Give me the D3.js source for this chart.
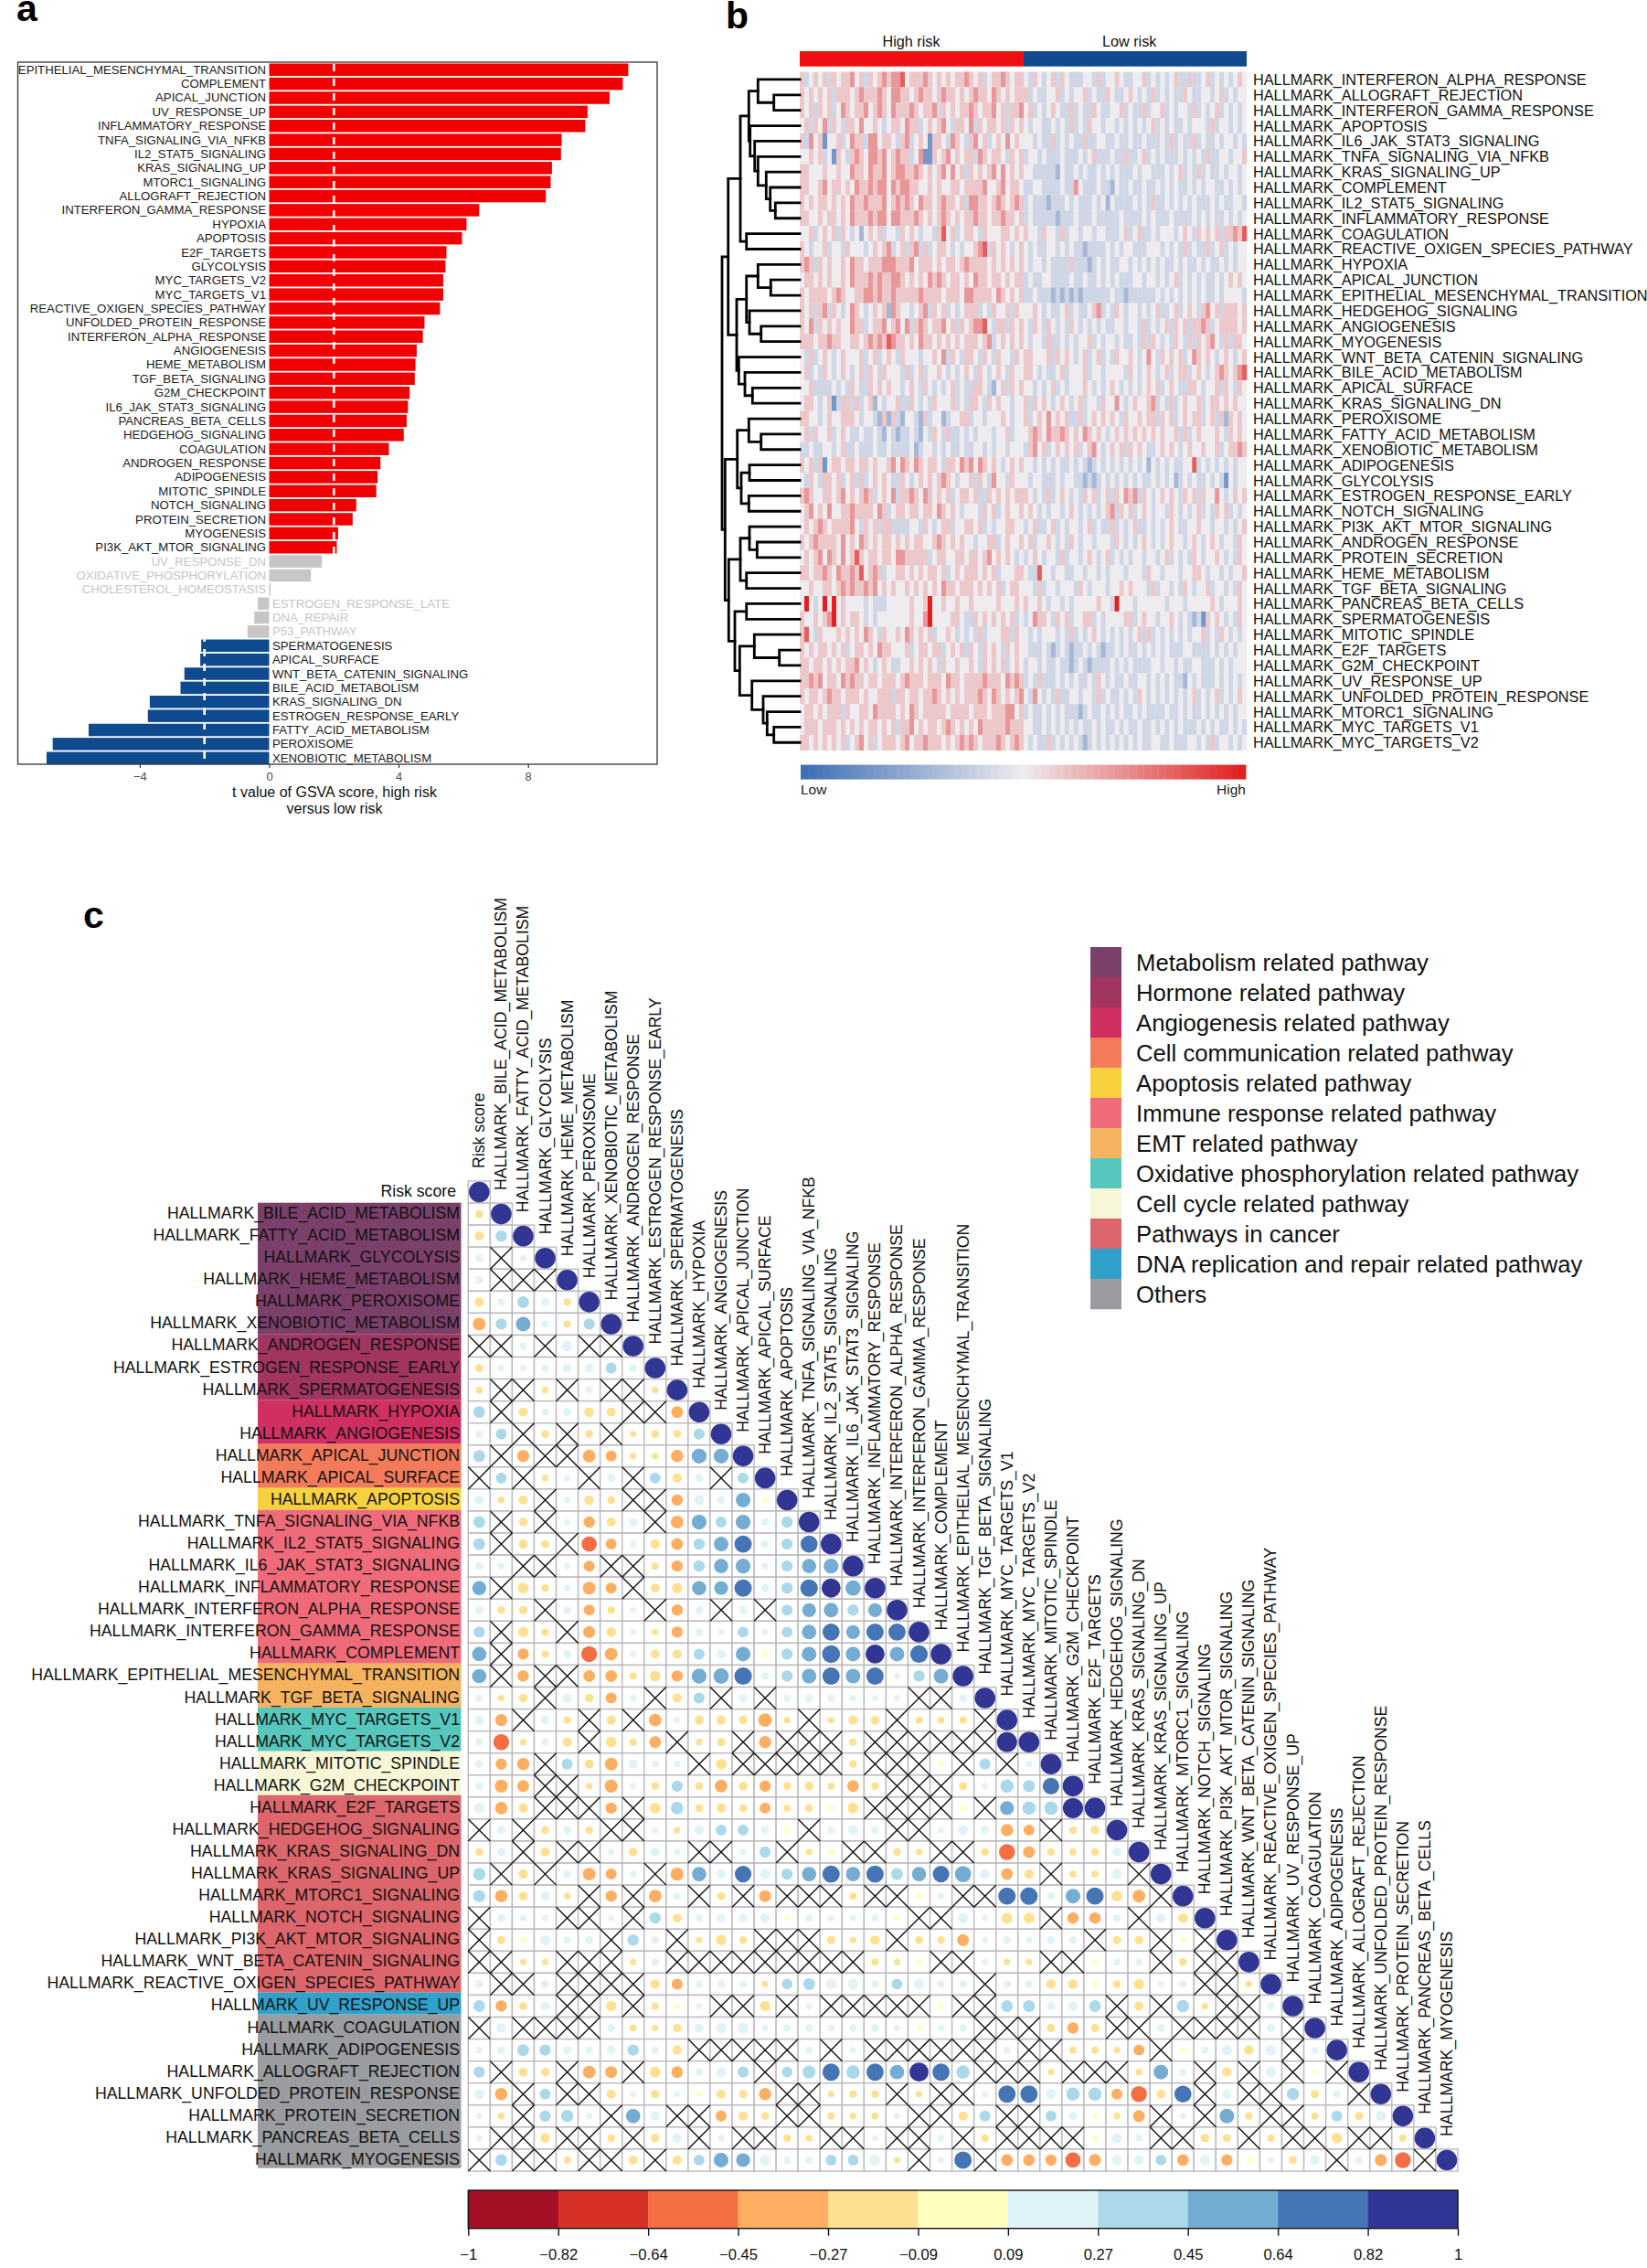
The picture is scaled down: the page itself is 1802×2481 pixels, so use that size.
<!DOCTYPE html>
<html><head><meta charset="utf-8">
<script src="https://cdn.jsdelivr.net/npm/d3@7"></script>
<style>
html,body{margin:0;padding:0;background:#fff}
text{font-family:"Liberation Sans",Arial,sans-serif}
</style></head><body><div id="chart"></div>
<script>
/* ---------- panel a ---------- */
const barNames=["EPITHELIAL_MESENCHYMAL_TRANSITION","COMPLEMENT","APICAL_JUNCTION","UV_RESPONSE_UP","INFLAMMATORY_RESPONSE","TNFA_SIGNALING_VIA_NFKB","IL2_STAT5_SIGNALING","KRAS_SIGNALING_UP","MTORC1_SIGNALING","ALLOGRAFT_REJECTION","INTERFERON_GAMMA_RESPONSE","HYPOXIA","APOPTOSIS","E2F_TARGETS","GLYCOLYSIS","MYC_TARGETS_V2","MYC_TARGETS_V1","REACTIVE_OXIGEN_SPECIES_PATHWAY","UNFOLDED_PROTEIN_RESPONSE","INTERFERON_ALPHA_RESPONSE","ANGIOGENESIS","HEME_METABOLISM","TGF_BETA_SIGNALING","G2M_CHECKPOINT","IL6_JAK_STAT3_SIGNALING","PANCREAS_BETA_CELLS","HEDGEHOG_SIGNALING","COAGULATION","ANDROGEN_RESPONSE","ADIPOGENESIS","MITOTIC_SPINDLE","NOTCH_SIGNALING","PROTEIN_SECRETION","MYOGENESIS","PI3K_AKT_MTOR_SIGNALING","UV_RESPONSE_DN","OXIDATIVE_PHOSPHORYLATION","CHOLESTEROL_HOMEOSTASIS","ESTROGEN_RESPONSE_LATE","DNA_REPAIR","P53_PATHWAY","SPERMATOGENESIS","APICAL_SURFACE","WNT_BETA_CATENIN_SIGNALING","BILE_ACID_METABOLISM","KRAS_SIGNALING_DN","ESTROGEN_RESPONSE_EARLY","FATTY_ACID_METABOLISM","PEROXISOME","XENOBIOTIC_METABOLISM"];
const barValues=[11.1,10.93,10.52,9.84,9.77,9.04,9.02,8.74,8.7,8.55,6.49,6.1,5.96,5.48,5.45,5.38,5.38,5.28,4.8,4.75,4.56,4.52,4.5,4.34,4.29,4.25,4.16,3.7,3.44,3.35,3.31,2.69,2.58,2.13,2.09,1.63,1.29,0.04,-0.35,-0.46,-0.67,-2.1,-2.13,-2.62,-2.74,-3.69,-3.75,-5.58,-6.69,-6.88];
const barTicks=[-4,0,4,8];
const barThreshold=[-2,2];

/* ---------- panel b ---------- */
const heatRowNames=["INTERFERON_ALPHA_RESPONSE","ALLOGRAFT_REJECTION","INTERFERON_GAMMA_RESPONSE","APOPTOSIS","IL6_JAK_STAT3_SIGNALING","TNFA_SIGNALING_VIA_NFKB","KRAS_SIGNALING_UP","COMPLEMENT","IL2_STAT5_SIGNALING","INFLAMMATORY_RESPONSE","COAGULATION","REACTIVE_OXIGEN_SPECIES_PATHWAY","HYPOXIA","APICAL_JUNCTION","EPITHELIAL_MESENCHYMAL_TRANSITION","HEDGEHOG_SIGNALING","ANGIOGENESIS","MYOGENESIS","WNT_BETA_CATENIN_SIGNALING","BILE_ACID_METABOLISM","APICAL_SURFACE","KRAS_SIGNALING_DN","PEROXISOME","FATTY_ACID_METABOLISM","XENOBIOTIC_METABOLISM","ADIPOGENESIS","GLYCOLYSIS","ESTROGEN_RESPONSE_EARLY","NOTCH_SIGNALING","PI3K_AKT_MTOR_SIGNALING","ANDROGEN_RESPONSE","PROTEIN_SECRETION","HEME_METABOLISM","TGF_BETA_SIGNALING","PANCREAS_BETA_CELLS","SPERMATOGENESIS","MITOTIC_SPINDLE","E2F_TARGETS","G2M_CHECKPOINT","UV_RESPONSE_UP","UNFOLDED_PROTEIN_RESPONSE","MTORC1_SIGNALING","MYC_TARGETS_V1","MYC_TARGETS_V2"];
const heatHigh=[
"5345453545564535456566745556545454556545345565455",
"5454545355545655565466554565545655454565546545455",
"5453545346545564565465556545563545455654556453556",
"4535463543554644543455465534545643554635455453545",
"5364514453465536645543563454155436543564534546454",
"4454534154356546656456553461154564545536545543545",
"5544454454465546556456655654545646453545456464545",
"5544564554546556566465665544545445545555644564554",
"5454554545465565556456565465545655453665545654565",
"5544545545465556566466555654545654545565545565545",
"4453454535434245453443545434435745345543544455454",
"5434453443544434545634535635345543434456735454345",
"5653545445465545556665556455545455456555545454545",
"4554545445465556565566545454656545545465545545455",
"5455554565445566565565555565555455546655554654545",
"5453563543465434545265443456354534345553435445354",
"5463545454465534556456463565455645354566743553545",
"5554556554455456565765545465545454545554563454545",
"4353454345444534534543544434454635435543543544354",
"4534354345434535435444353453445434345435434543544",
"4453333434354335454544345435434345343355432453545",
"4554345135535345243445335434354445343554354544344",
"5544345445554344325253244325344234455344344454344",
"4535445345433433432432334324354353343434443445344",
"3343344345334333433433334234434343343344343443444",
"5453514554554554544564654654554355465646545434545",
"4354355453453534545433543454545654344535436443544",
"5654455456454565345463556546545453455453354545455",
"4564546445565555465345545545546545434443545345445",
"4545654555564354535533334435434553445545343445544",
"5456555546454654545545454554456545454434455345445",
"4545646546457545545546655555345544554554564545434",
"5545565465565745653445545454554534545554545344455",
"4454455456565565645454454545454655455545454534554",
"4843484845444434333444445445844544544544444544454",
"5445456845455434344444445446844445543354545454534",
"5743544454545465435445465454534454343435344455354",
"5454554545345545465544453455455345453543545435454",
"5545545454556454345433445454543544544543545453454",
"5565645546565545545554565554555465545555655546565",
"5455456554555454455535545545565454545556546545456",
"4554545553544554655554546545555545555455545556645",
"4555455545454545545453556454554565454546555556555",
"5545454545345645345554564556555454565654555654565"];
const heatLow=[
"4354345354333443534454334453434345335334534343454",
"5343344534344534335433454343534343354334434534344",
"4534345433534335433445343353445343443534345343434",
"4344334343534354434434343434534343343444353443434",
"4434335343433533443343343343334353433534334344343",
"3443433343334345333433533453434333434343533443445",
"4433333243343433434343334344333434534353433434434",
"3344333343364333433243343343343434334343443343434",
"3433323334343334342433334343533434343433343433443",
"3433333233343334333334333343433343333434343343434",
"5443544353443443443334534533434443454354545355657",
"4343344343433233334343443334443434353433534534344",
"4344343333533323434334434343434334343343433434344",
"3433443333433433434343334434434345343434334345454",
"3343332323232333333433233333343434343434334344443",
"4454343345343345634354344343453345345435645355545",
"4354354343543434343344344353434535453556534555545",
"4344353343434453434434334353543435435354564353554",
"5544453545434534534354454346435454534654543454345",
"5543433453444534434444354345434534553454345654567",
"4434345343444543434543434345453454335543445354354",
"5354543454345344354464345445634353454453455454544",
"5345464545335345454543544545535453454553453525454",
"4565465565454654543454545454545445353454445435454",
"3564534545453456434545354543345454345445445345565",
"4434343433434323434343434342434343344734343434344",
"4344333434433232343434343433434342343433434314344",
"5434353454343545345354656354345454354535446434545",
"4543434434543434345635453454344354343453435453434",
"3453345343443453433534345334343454334454434434345",
"4534454343543443444354343454343454434543454344354",
"3454344353443454345343434434434534343543445434354",
"4337443443344344343444344435443444344554344343445",
"4435344344435434443445454443534434354344534434354",
"5445434434344444544384443444444344434444454344454",
"3465543545344553434444553454434454343231545434354",
"4343444343534345434343434535343434343445343543434",
"4333432343233434323343433434343433344333343434344",
"3443433433234323333434343333443443433443334343444",
"3435333434343343543433433443434343324343334343434",
"4364343533443443534334343543434343434534345343454",
"3433434343332343343434334343333433434334343434344",
"4433434343434334343343433433434343433343434334343",
"4343353434343234343434343433443343334434353443434"];
const heatGroups=["High risk","Low risk"];
const heatScaleLabels=["Low","High"];
const dendrogram=[85,
 [78.3,
  [65,
   [55.7,[45.7,0,[28.3,1,2]],
    [54.3,3,[49.3,4,[45.7,5,[36.7,6,[32.3,7,[26.7,8,9]]]]]]],
   [58.3,10,11]],
  [69,
   [58.3,[45.7,12,[31.7,13,14]],[55,15,[42.3,16,17]]],
   [66.7,18,[60,19,[51.7,20,21]]]]],
 [81.7,
  [68.3,[55.7,22,[42.3,23,24]],[64,[55,25,26],[55.7,27,28]]],
  [77.7,
   [65,[55,29,[46.7,30,31]],[58.3,32,33]],
   [71,[58.3,34,35],
    [65.7,[49.7,36,[22.3,37,38]],
     [52.3,39,[40,40,[35.7,41,[28.3,42,43]]]]]]]]];

/* ---------- panel c ---------- */
const corrNames=["Risk score","HALLMARK_BILE_ACID_METABOLISM","HALLMARK_FATTY_ACID_METABOLISM","HALLMARK_GLYCOLYSIS","HALLMARK_HEME_METABOLISM","HALLMARK_PEROXISOME","HALLMARK_XENOBIOTIC_METABOLISM","HALLMARK_ANDROGEN_RESPONSE","HALLMARK_ESTROGEN_RESPONSE_EARLY","HALLMARK_SPERMATOGENESIS","HALLMARK_HYPOXIA","HALLMARK_ANGIOGENESIS","HALLMARK_APICAL_JUNCTION","HALLMARK_APICAL_SURFACE","HALLMARK_APOPTOSIS","HALLMARK_TNFA_SIGNALING_VIA_NFKB","HALLMARK_IL2_STAT5_SIGNALING","HALLMARK_IL6_JAK_STAT3_SIGNALING","HALLMARK_INFLAMMATORY_RESPONSE","HALLMARK_INTERFERON_ALPHA_RESPONSE","HALLMARK_INTERFERON_GAMMA_RESPONSE","HALLMARK_COMPLEMENT","HALLMARK_EPITHELIAL_MESENCHYMAL_TRANSITION","HALLMARK_TGF_BETA_SIGNALING","HALLMARK_MYC_TARGETS_V1","HALLMARK_MYC_TARGETS_V2","HALLMARK_MITOTIC_SPINDLE","HALLMARK_G2M_CHECKPOINT","HALLMARK_E2F_TARGETS","HALLMARK_HEDGEHOG_SIGNALING","HALLMARK_KRAS_SIGNALING_DN","HALLMARK_KRAS_SIGNALING_UP","HALLMARK_MTORC1_SIGNALING","HALLMARK_NOTCH_SIGNALING","HALLMARK_PI3K_AKT_MTOR_SIGNALING","HALLMARK_WNT_BETA_CATENIN_SIGNALING","HALLMARK_REACTIVE_OXIGEN_SPECIES_PATHWAY","HALLMARK_UV_RESPONSE_UP","HALLMARK_COAGULATION","HALLMARK_ADIPOGENESIS","HALLMARK_ALLOGRAFT_REJECTION","HALLMARK_UNFOLDED_PROTEIN_RESPONSE","HALLMARK_PROTEIN_SECRETION","HALLMARK_PANCREAS_BETA_CELLS","HALLMARK_MYOGENESIS"];
const _=null; /* crossed-out (non-significant) cell */
const corrRows=[
[1],
[-.15,1],
[-.2,.3,1],
[.15,_,.1,1],
[.14,_,_,_,1],
[-.2,.14,.32,.15,-.13,1],
[-.38,.3,.5,.13,-.12,.3,1],
[_,_,.12,_,.25,_,_,1],
[-.15,.11,.1,.12,.18,.18,.28,.15,1],
[-.11,_,_,-.1,_,.12,_,_,-.1,1],
[.32,_,-.2,.12,.16,-.22,-.19,_,_,-.33,1],
[.13,.28,_,-.15,_,-.14,_,-.1,-.15,-.15,.28,1],
[.34,_,-.35,_,_,-.38,-.28,-.1,-.1,-.36,.52,.52,1],
[_,.28,_,-.1,.1,_,.15,_,.28,-.2,.15,_,.28,1],
[.2,-.11,-.2,_,.09,-.22,-.15,_,_,-.3,.25,.12,.5,.08,1],
[.33,_,-.17,_,.1,-.3,-.19,.16,_,-.38,.52,.28,.52,.12,.3,1],
[.33,_,-.2,-.15,_,-.55,-.28,.11,-.2,-.33,.3,.5,.7,.14,.3,.68,1],
[.15,.1,_,_,.1,-.28,_,_,-.12,-.3,.3,.48,.52,.1,.3,.48,.52,1],
[.46,_,-.27,-.13,.1,-.38,-.28,_,-.2,-.25,.48,.45,.7,.14,.3,.72,.85,.55,1],
[.15,-.13,-.16,_,.13,-.28,-.13,.09,_,-.3,.15,_,.15,_,.28,.45,.5,.3,.45,1],
[.3,_,-.25,-.12,_,-.33,-.22,.09,-.1,-.3,.15,.09,.28,.1,.28,.5,.68,.45,.7,.7,1],
[.48,_,-.3,-.12,.14,-.6,-.38,.1,-.18,-.2,.28,.2,.5,.08,.3,.5,.75,.5,.85,.5,.72,1],
[.48,_,-.3,_,_,-.32,-.32,-.13,-.27,-.3,.52,.55,.72,.12,.3,.5,.7,.5,.7,.09,.3,.5,1],
[.12,-.1,-.17,_,.2,-.17,-.28,.12,_,-.2,.28,_,.15,_,.12,.15,.14,.1,.09,.09,_,_,.15,1],
[.2,-.35,_,.18,-.13,_,-.2,_,-.38,.1,-.2,-.2,-.18,-.43,-.1,_,-.1,-.2,-.17,_,-.12,-.12,-.14,_,1],
[.13,-.6,-.1,.13,-.2,_,-.27,-.12,-.32,_,-.1,-.16,_,-.35,_,_,_,-.14,_,_,_,_,_,_,.95,1],
[.14,-.3,-.36,_,.28,-.2,-.38,.2,.12,.1,_,-.27,_,_,_,_,_,-.13,_,_,_,.08,_,.28,_,.1,1],
[.15,-.4,-.33,_,_,-.1,-.4,.1,-.13,.3,-.15,-.38,-.18,-.3,-.14,-.18,-.12,-.32,-.13,_,_,_,-.15,.1,.42,.35,.65,1],
[.25,-.36,-.2,_,_,_,-.3,_,-.27,.36,-.15,-.2,-.14,-.28,-.12,-.14,-.08,-.27,_,_,_,_,-.08,_,.45,.42,.43,.95,1],
[_,.17,_,-.15,.14,-.14,_,_,.1,-.1,.2,.28,.27,.16,.08,_,.13,.22,.14,_,_,.1,.24,.15,-.36,-.28,_,-.13,-.18,1],
[-.15,.18,_,-.2,_,_,.1,-.17,.2,.1,_,_,.1,.3,_,-.1,-.08,_,_,-.15,-.1,_,_,-.14,-.6,-.33,-.13,-.12,-.14,.2,1],
[.36,_,-.2,_,.13,-.38,-.28,.11,_,-.4,.48,.2,.65,.25,.3,.48,.7,.48,.7,.33,.48,.65,.62,.22,-.32,-.2,_,-.12,-.12,.25,_,1],
[.35,-.36,-.17,.2,-.1,_,-.3,_,-.37,.12,_,-.15,_,-.33,_,_,_,-.12,_,_,.08,.1,_,_,.7,.72,.15,.5,.7,-.27,-.38,_,1],
[_,.16,.1,.1,_,_,.1,_,.3,-.18,.12,.16,.16,.22,.08,.12,.1,.09,.12,-.09,_,_,.26,.09,-.27,-.27,_,-.3,-.3,.13,_,.22,-.22,1],
[_,-.15,.08,.25,.13,.15,_,.3,.15,_,-.1,-.26,-.14,_,_,_,-.18,-.1,-.22,_,-.14,-.14,-.33,.09,.14,.1,.16,.13,_,-.16,-.18,_,.07,_,1],
[_,_,-.1,-.1,_,_,_,-.1,.13,_,_,_,_,_,_,_,_,_,-.12,-.1,-.09,_,_,.1,-.1,-.1,_,_,-.09,.12,.11,_,-.14,_,_,1],
[.15,_,_,.17,_,_,_,_,-.2,-.28,.12,.13,.12,-.1,.27,.33,.26,.26,.13,.27,.26,.13,.13,_,.13,.13,-.2,-.22,-.09,-.14,-.25,.09,.13,_,_,-.1,1],
[.32,-.3,-.15,.18,_,_,-.25,_,-.12,.07,.1,_,_,-.25,_,.09,_,_,_,_,_,.08,_,_,.32,.34,.15,.22,.32,_,-.2,_,.36,-.1,_,_,.14,1],
[_,.2,_,_,_,_,.14,-.12,-.1,-.17,.2,.25,.26,.1,.13,.14,.12,.14,.14,.1,.07,.1,.14,_,_,_,-.16,-.3,-.16,_,_,.14,_,_,_,_,.16,_,1],
[.1,.15,.33,.3,.16,.13,.18,.3,.12,-.2,_,_,_,_,_,.12,_,.09,_,_,_,_,_,_,.12,_,_,-.12,-.12,-.1,-.28,_,.07,.12,.25,-.2,.25,_,.1,1],
[.3,_,-.18,-.17,_,-.38,-.33,_,-.27,-.32,.13,.22,.3,_,.27,.4,.7,.42,.7,.48,.85,.7,.42,_,_,_,-.1,_,_,_,-.12,.5,.12,_,-.2,_,.25,_,.07,_,1],
[.24,-.37,_,.28,_,_,-.2,.1,-.17,.1,-.08,-.2,-.16,-.35,_,_,-.1,-.14,-.14,_,-.1,_,_,.1,.7,.7,.25,.42,.42,-.28,-.6,-.18,.68,_,.2,_,_,.37,-.16,.13,_,1],
[.1,-.11,_,.3,.36,.1,_,.48,.2,_,_,-.28,-.2,-.14,_,_,-.12,-.1,-.12,.1,_,_,-.2,.28,_,_,.28,.17,.07,-.12,-.33,_,.1,_,.5,-.14,_,_,-.12,.28,-.16,.26,1],
[.1,_,_,-.2,_,_,-.13,_,-.17,.2,_,.1,_,_,-.13,-.11,_,_,.09,_,_,.12,_,-.12,_,_,_,_,.08,.25,.13,_,_,-.17,-.16,_,-.12,_,_,-.26,_,_,-.12,1],
[_,.33,_,_,-.12,_,_,-.18,_,-.2,.28,.5,.45,.26,.12,.12,.28,.28,.26,-.1,_,.1,.7,_,-.32,-.32,-.3,-.55,-.34,.25,.22,.27,-.32,.25,-.3,.08,.1,-.15,.22,_,.12,-.34,-.6,_,1]];
const corrBreaks=[-.82,-.64,-.45,-.27,-.09,.09,.27,.45,.64,.82];
const corrColors=["#a50f26","#d73027","#f46d43","#fdae61","#fee090","#ffffbf","#e0f3f8","#abd9e9","#74add1","#4575b4","#313695"];
const corrTicks=["−1","−0.82","−0.64","−0.45","−0.27","−0.09","0.09","0.27","0.45","0.64","0.82","1"];
const pathwayNames=["Metabolism related pathway","Hormone related pathway","Angiogenesis related pathway","Cell communication related pathway","Apoptosis related pathway","Immune response related pathway","EMT related pathway","Oxidative phosphorylation related pathway","Cell cycle related pathway","Pathways in cancer","DNA replication and repair related pathway","Others"];
const pathwayColors=["#7b4069","#a13560","#d02f62","#f47b5a","#f8d23e","#ef6b79","#f6b35f","#56c7bd","#f7f6d6","#dc666b","#2fa1cb","#9a9c9f"];
const pathwayRowCounts=[6,3,2,2,1,7,2,2,2,9,1,7];

/* ---------- drawing ---------- */
const svg=d3.select("#chart").append("svg").attr("width",1802).attr("height",2481);
const panelLabels=[["a",18,23],["b",794,31],["c",91,1015]];
svg.selectAll("text.panel").data(panelLabels).join("text").attr("class","panel")
 .attr("x",d=>d[1]).attr("y",d=>d[2]).attr("font-size",41).attr("font-weight","bold").text(d=>d[0]);

/* panel a */
(function(){
 const L=19.5,R=719,T=68,B=836;
 const x=d3.scaleLinear().domain([-4,8]).range([152.9,577.7]);
 const y=d3.scaleBand().domain(barNames).range([T+1.5,B]).paddingInner(.12).paddingOuter(0);
 const g=svg.append("g");
 const cls=v=>v>=2?"#f00000":v<=-2?"#0f4a8f":"#c8c5c7";
 g.selectAll("rect.bar").data(barNames).join("rect").attr("class","bar")
  .attr("x",(d,i)=>Math.min(x(0),x(barValues[i]))).attr("width",(d,i)=>Math.abs(x(barValues[i])-x(0)))
  .attr("y",d=>y(d)).attr("height",y.bandwidth()).attr("fill",(d,i)=>cls(barValues[i]));
 g.selectAll("line.th").data(barThreshold).join("line").attr("class","th")
  .attr("x1",x).attr("x2",x).attr("y1",T+2).attr("y2",B)
  .attr("stroke","#fff").attr("stroke-width",2.6).attr("stroke-dasharray","8 8");
 g.selectAll("text.lab").data(barNames).join("text").attr("class","lab")
  .attr("x",(d,i)=>barValues[i]>=0?x(0)-3.5:x(0)+3.5).attr("y",d=>y(d)+y.bandwidth()/2)
  .attr("dominant-baseline","central").attr("text-anchor",(d,i)=>barValues[i]>=0?"end":"start")
  .attr("font-size",13.2).attr("fill",(d,i)=>Math.abs(barValues[i])>=2?"#1a1a1a":"#c8c4c6").text(d=>d);
 g.append("rect").attr("x",L).attr("y",T).attr("width",R-L).attr("height",B-T).attr("fill","none").attr("stroke","#333").attr("stroke-width",1.3);
 const ax=g.append("g").attr("transform",`translate(0,${B})`).call(d3.axisBottom(x).tickValues(barTicks).tickSize(4).tickFormat(d=>d<0?"−"+(-d):d));
 ax.select(".domain").remove();
 ax.selectAll("line").attr("stroke","#333").attr("stroke-width",1.2);
 ax.selectAll("text").attr("font-size",13).attr("fill","#4d4d4d").attr("font-family","Liberation Sans").attr("dy","0.85em");
 g.selectAll("text.xt").data(["t value of GSVA score, high risk","versus low risk"]).join("text").attr("class","xt")
  .attr("x",366).attr("y",(d,i)=>872+i*18).attr("text-anchor","middle").attr("font-size",16).attr("fill","#111").text(d=>d);
})();

/* panel b */
(function(){
 const L=875,M=1120,R=1364,T=78.5,B=820.7;
 const y=d3.scaleBand().domain(heatRowNames).range([T,B]);
 const xH=d3.scaleBand().domain(d3.range(49)).range([L,M]);
 const xL=d3.scaleBand().domain(d3.range(49)).range([M,R]);
 const col=d3.scaleLinear().domain([-1,0,1]).range(["#3f6fb5","#eeecef","#e1201f"]);
 const g=svg.append("g");
 const lvl=c=>{const s=(+c-4)/4;return Math.sign(s)*Math.pow(Math.abs(s),1.25);};
 [[heatHigh,xH],[heatLow,xL]].forEach(([rows,xs])=>{
  rows.forEach((s,r)=>{
   g.append("g").selectAll("rect").data(s.split("").slice(0,49)).join("rect")
    .attr("x",(d,i)=>xs(i)).attr("width",xs.bandwidth()+.3).attr("y",y(heatRowNames[r])).attr("height",y.bandwidth()+.3)
    .attr("fill",d=>col(lvl(d)));
  });
 });
 g.selectAll("rect.ann").data(heatGroups).join("rect").attr("class","ann")
  .attr("x",(d,i)=>i?M:L).attr("width",(d,i)=>i?R-M:M-L).attr("y",56).attr("height",16.7).attr("fill",(d,i)=>i?"#0f4a8f":"#ee1010");
 g.selectAll("text.ann").data(heatGroups).join("text").attr("class","ann")
  .attr("x",(d,i)=>i?1235.7:997).attr("y",51).attr("text-anchor","middle").attr("font-size",16.2).attr("fill","#111").text(d=>d);
 g.selectAll("text.rn").data(heatRowNames).join("text").attr("class","rn")
  .attr("x",1371).attr("y",d=>y(d)+y.bandwidth()/2).attr("dominant-baseline","central").attr("font-size",16.3).attr("fill","#111").text(d=>"HALLMARK_"+d);
 /* dendrogram */
 const root=d3.hierarchy(dendrogram,d=>Array.isArray(d)?d.slice(1):null);
 const hx=d3.scaleLinear().domain([0,85]).range([L,L-85]);
 const height=n=>n.children?n.data[0]:0;
 root.eachAfter(n=>{n.yy=n.children?d3.mean(n.children,c=>c.yy):y(heatRowNames[n.data])+y.bandwidth()/2;});
 const dp=g.append("g").attr("fill","none").attr("stroke","#000").attr("stroke-width",2.8).attr("stroke-linecap","square");
 root.descendants().filter(n=>n.children).forEach(n=>{
  const [a,b]=n.children;
  dp.append("path").attr("d",d3.line()([[hx(height(a)),a.yy],[hx(height(n)),a.yy],[hx(height(n)),b.yy],[hx(height(b)),b.yy]]));
 });
 /* colour key */
 const keyVals=d3.range(-1,1.001,2/60);
 const kx=d3.scaleBand().domain(keyVals).range([L+1,R-1]);
 g.selectAll("rect.key").data(keyVals).join("rect").attr("class","key").attr("x",d=>kx(d)).attr("width",kx.bandwidth()+.4).attr("y",836.6).attr("height",16).attr("fill",d=>col(d));
 g.selectAll("text.kl").data(heatScaleLabels).join("text").attr("class","kl")
  .attr("x",(d,i)=>i?R-1:L+1).attr("y",863).attr("dominant-baseline","central").attr("text-anchor",(d,i)=>i?"end":"start").attr("font-size",15.5).attr("fill","#222").text(d=>d);
})();

/* panel c */
(function(){
 const L=512.3,R=1595,T=1292,B=2375;
 const pos=d3.scaleBand().domain(d3.range(corrNames.length));
 const xs=pos.copy().range([L,R]), ys=pos.copy().range([T,B]);
 const cw=xs.bandwidth();
 const colr=d3.scaleThreshold().domain(corrBreaks).range(corrColors);
 const rad=d3.scaleSqrt().domain([0,1]).range([0,11.3]);
 const g=svg.append("g");
 /* pathway bands */
 let st=1;
 const bands=pathwayRowCounts.map((n,i)=>{const o={s:st,n,c:pathwayColors[i]};st+=n;return o;});
 const by=d3.scaleLinear().domain([1,45]).range([1315.7,2371.7]);
 g.selectAll("rect.band").data(bands).join("rect").attr("class","band").attr("x",282).attr("width",222.5)
  .attr("y",d=>by(d.s)).attr("height",d=>by(d.s+d.n)-by(d.s)).attr("fill",d=>d.c);
 /* row labels */
 g.selectAll("text.rl").data(corrNames).join("text").attr("class","rl")
  .attr("x",(d,i)=>i?503:499).attr("y",(d,i)=>ys(i)+cw/2-1).attr("dominant-baseline","central").attr("text-anchor","end")
  .attr("font-size",17.7).attr("fill","#111").text(d=>d);
 g.selectAll("text.cl").data(corrNames).join("text").attr("class","cl")
  .attr("transform",(d,i)=>`translate(${xs(i)+cw/2},${ys(i)-14}) rotate(-90)`).attr("dominant-baseline","central")
  .attr("font-size",17.7).attr("fill","#111").text(d=>d);
 /* cells */
 const cells=[];
 corrRows.forEach((row,r)=>row.forEach((v,c)=>cells.push({r,c,v})));
 g.selectAll("rect.cell").data(cells).join("rect").attr("class","cell").attr("x",d=>xs(d.c)).attr("y",d=>ys(d.r)).attr("width",cw).attr("height",cw)
  .attr("fill","#fff").attr("stroke","#bab8bd").attr("stroke-width",1.4);
 const crossed=cells.filter(d=>d.v===null);
 g.selectAll("circle.tiny").data(crossed).join("circle").attr("class","tiny").attr("cx",d=>xs(d.c)+cw/2).attr("cy",d=>ys(d.r)+cw/2).attr("r",1.6).attr("fill","#ffffbf");
 g.selectAll("path.x").data(crossed).join("path").attr("class","x")
  .attr("d",d=>{const a=xs(d.c),b=ys(d.r);return d3.line()([[a,b],[a+cw,b+cw]])+d3.line()([[a+cw,b],[a,b+cw]]);})
  .attr("stroke","#111").attr("stroke-width",1.4).attr("fill","none");
 g.selectAll("circle.c").data(cells.filter(d=>d.v!==null)).join("circle").attr("class","c")
  .attr("cx",d=>xs(d.c)+cw/2).attr("cy",d=>ys(d.r)+cw/2).attr("r",d=>rad(Math.abs(d.v))).attr("fill",d=>colr(d.v));
 /* colour bar */
 const bx=d3.scaleBand().domain(corrColors).range([L,R]);
 g.selectAll("rect.cb").data(corrColors).join("rect").attr("class","cb").attr("x",d=>bx(d)).attr("y",2396).attr("width",bx.bandwidth()+.3).attr("height",41.7).attr("fill",d=>d);
 g.append("rect").attr("x",L).attr("y",2396).attr("width",R-L).attr("height",41.7).attr("fill","none").attr("stroke","#111").attr("stroke-width",1.4);
 const tx=d3.scalePoint().domain(corrTicks).range([L,R]);
 const ax=g.append("g").attr("transform","translate(0,2437.7)").call(d3.axisBottom(tx).tickSize(8));
 ax.select(".domain").remove();
 ax.selectAll("line").attr("stroke","#111").attr("stroke-width",1.4);
 ax.selectAll("text").attr("font-size",16.6).attr("fill","#111").attr("font-family","Liberation Sans").attr("y",29).attr("dy","0.35em");
 /* legend */
 const ly=d3.scaleBand().domain(pathwayNames).range([1036,1432]);
 g.selectAll("rect.lg").data(pathwayNames).join("rect").attr("class","lg").attr("x",1193).attr("y",d=>ly(d)).attr("width",34).attr("height",ly.bandwidth()+.3).attr("fill",(d,i)=>pathwayColors[i]);
 g.selectAll("text.lg").data(pathwayNames).join("text").attr("class","lg").attr("x",1243).attr("y",d=>ly(d)+ly.bandwidth()/2).attr("dominant-baseline","central").attr("font-size",25.7).attr("fill","#111").text(d=>d);
})();
</script></body></html>
